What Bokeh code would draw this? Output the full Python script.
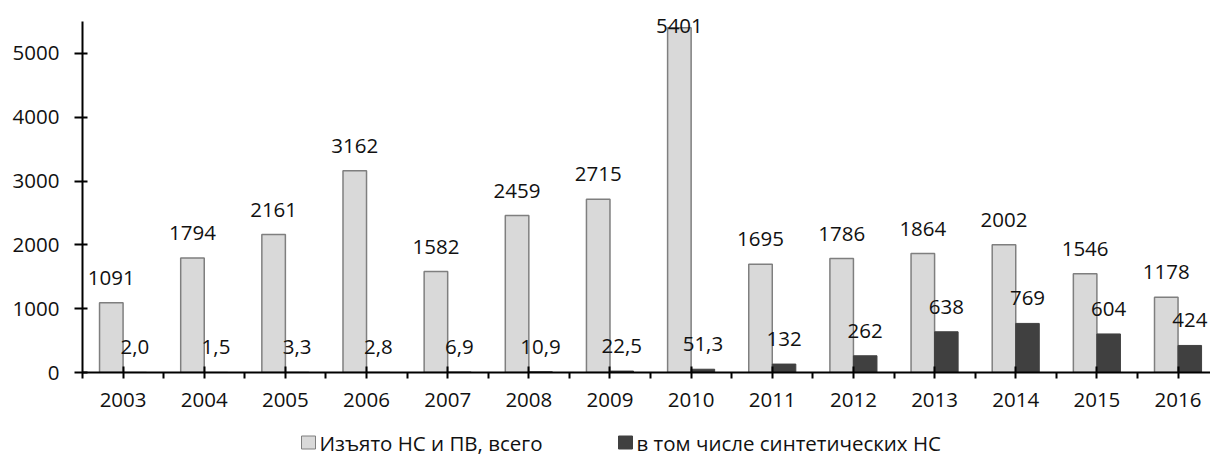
from bokeh.plotting import figure
from bokeh.layouts import column
from bokeh.models import Range1d, FixedTicker, LabelSet, ColumnDataSource
from bokeh.core.properties import value
from bokeh.embed import file_html
from bokeh.resources import INLINE

years = ["2003", "2004", "2005", "2006", "2007", "2008", "2009",
         "2010", "2011", "2012", "2013", "2014", "2015", "2016"]
total = [1091, 1794, 2161, 3162, 1582, 2459, 2715, 5401, 1695, 1786, 1864, 2002, 1546, 1178]
synthetic = [2.0, 1.5, 3.3, 2.8, 6.9, 10.9, 22.5, 51.3, 132, 262, 638, 769, 604, 424]
synthetic_labels = ["2,0", "1,5", "3,3", "2,8", "6,9", "10,9", "22,5", "51,3",
                    "132", "262", "638", "769", "604", "424"]
series_names = ["Изъято НС и ПВ, всего", "в том числе синтетических НС"]
y_ticks = [0, 1000, 2000, 3000, 4000, 5000]

FONT = "Open Sans"
FS = "20.5px"
BW = 0.29
YMAX = 5500
GREY = "#d9d9d9"
GREY_EDGE = "#7f7f7f"
DARK = "#404040"
TXT = "#111111"

idx = list(range(len(years)))
x_grey = [i - BW / 2 for i in idx]
x_dark = [i + BW / 2 for i in idx]

# main chart: frame extends a bit above the axis end so the top label is not clipped
p = figure(width=1210, height=420, output_backend="svg", toolbar_location=None,
           x_range=Range1d(-0.5, 13.4), y_range=Range1d(0, 5750),
           min_border_left=82, min_border_right=0, min_border_top=5, min_border_bottom=48)
p.grid.visible = False
p.outline_line_color = None

p.vbar(x=x_grey, top=total, width=BW, fill_color=GREY, line_color=GREY_EDGE, line_width=1.5)
p.vbar(x=x_dark, top=synthetic, width=BW, fill_color=DARK, line_color=DARK, line_width=1)

def offsets(vals):
    return [-5 if v > YMAX * 0.93 else 18 for v in vals]

src1 = ColumnDataSource(dict(x=x_grey, y=total, t=[str(v) for v in total], o=offsets(total)))
src2 = ColumnDataSource(dict(x=x_dark, y=synthetic, t=synthetic_labels, o=offsets(synthetic)))
for s in (src1, src2):
    p.add_layout(LabelSet(x="x", y="y", text="t", source=s, y_offset="o",
                          text_align="center", text_baseline="alphabetic",
                          text_font=value(FONT), text_font_size=value(FS),
                          text_color=TXT))

xa = p.xaxis[0]
ya = p.yaxis[0]
for a in (xa, ya):
    a.axis_line_width = 2
    a.major_tick_line_width = 2
    a.minor_tick_line_width = 2
    a.axis_line_color = "black"
    a.major_tick_line_color = "black"
    a.minor_tick_line_color = "black"
    a.major_label_text_font = FONT
    a.major_label_text_font_size = FS
    a.major_label_text_color = TXT

xa.ticker = FixedTicker(ticks=idx, minor_ticks=[i - 0.5 for i in range(len(years) + 1)])
xa.major_label_overrides = {i: y for i, y in enumerate(years)}
xa.major_tick_in = 6
xa.major_tick_out = 6
xa.minor_tick_in = 0
xa.minor_tick_out = 6
xa.major_label_standoff = 14

ya.ticker = FixedTicker(ticks=y_ticks)
ya.bounds = (0, YMAX)
ya.major_tick_in = 5
ya.major_tick_out = 8
ya.minor_tick_out = 0
ya.minor_tick_in = 0
ya.major_label_standoff = 15

# legend strip below the chart (its frame is aligned with the chart frame)
lg = figure(width=1210, height=36, output_backend="svg", toolbar_location=None,
            x_range=Range1d(82, 1210), y_range=Range1d(0, 36),
            x_axis_type=None, y_axis_type=None,
            min_border_left=82, min_border_right=0, min_border_top=0, min_border_bottom=0)
lg.grid.visible = False
lg.outline_line_color = None
leg_x = [301, 618]
leg_fill = [GREY, DARK]
leg_edge = [GREY_EDGE, DARK]
lg.quad(left=leg_x, right=[v + 14 for v in leg_x], bottom=7.5, top=20.5,
        fill_color=leg_fill, line_color=leg_edge, line_width=1)
lg.text(x=[v + 18 for v in leg_x], y=14, text=series_names, text_baseline="middle",
        text_align="left", text_font=value(FONT), text_font_size=value(FS), text_color=TXT)

open("out.html", "w").write(file_html(column(p, lg, spacing=0), INLINE))
